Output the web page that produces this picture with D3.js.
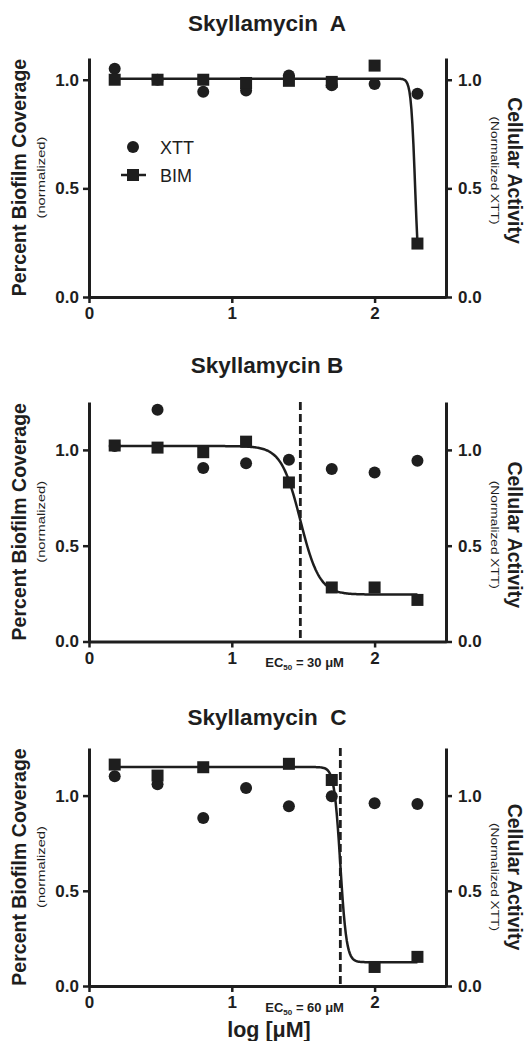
<!DOCTYPE html>
<html>
<head>
<meta charset="utf-8">
<script src="https://cdn.jsdelivr.net/npm/d3@7"></script>
<style>
  body { margin: 0; background: #fff; }
  text { font-family: "Liberation Sans", Arial, sans-serif; fill: #1e1e1e; }
</style>
</head>
<body>
<svg id="chart" width="527" height="1041"></svg>
<script>
// log10 of concentration (uM): 1.5, 3, 6.25, 12.5, 25, 50, 100, 200
var logConc = [0.18, 0.48, 0.80, 1.10, 1.40, 1.70, 2.00, 2.30];

var titles = ["Skyllamycin  A", "Skyllamycin B", "Skyllamycin  C"];

var xttA = [1.05, 1.00, 0.945, 0.95, 1.02, 0.975, 0.98, 0.935];
var bimA = [1.00, 1.00, 1.00, 0.985, 0.995, 0.99, 1.065, 0.246];

var xttB = [1.02, 1.21, 0.905, 0.93, 0.948, 0.90, 0.882, 0.943];
var bimB = [1.023, 1.012, 0.988, 1.043, 0.83, 0.282, 0.282, 0.217];

var xttC = [1.102, 1.06, 0.882, 1.04, 0.944, 0.996, 0.96, 0.956];
var bimC = [1.163, 1.105, 1.149, null, 1.167, 1.082, 0.10, 0.153];

// 4-parameter logistic fit of BIM (top, bottom, logEC50, hill)
var fitTop = [1.005, 1.02, 1.15];
var fitBottom = [0, 0.245, 0.125];
var fitLogEC50 = [2.284, 1.48, 1.76];
var fitHill = [30, 6.5, 20];

// EC50 marker lines
var ecLine = [null, 1.48, 1.76];
var ecText = [null, "30", "60"];

var yMax = [1.1, 1.25, 1.25];
var yTicks = [0, 0.5, 1.0];
var xTicks = [0, 1, 2];
var legendNames = ["XTT", "BIM"];

var
  ink = "#1e1e1e",
  svg = d3.select("#chart"),
  xL = 89, xR = 446,
  // per panel layout: axis top, axis bottom, title baseline, right label shift
  layout = [
    {top: 58, bottom: 297, title: 31, rShift: -7},
    {top: 402, bottom: 641.5, title: 373, rShift: 13},
    {top: 748, bottom: 986, title: 725, rShift: 10}
  ],
  xttAll = [xttA, xttB, xttC],
  bimAll = [bimA, bimB, bimC];

var x = d3.scaleLinear().domain([0, 2.5]).range([xL, xR]);

var logistic = (i, v) => fitBottom[i] + (fitTop[i] - fitBottom[i]) / (1 + Math.pow(10, (v - fitLogEC50[i]) * fitHill[i]));

var styleAxis = (g) => {
  g.attr("font-size", null).attr("font-family", null);
  g.select(".domain").attr("stroke", ink).attr("stroke-width", 3);
  g.selectAll(".tick line").attr("stroke", ink).attr("stroke-width", 2.5);
  g.selectAll(".tick text").attr("fill", ink)
    .style("font-size", "17px").style("font-weight", "bold");
};

var drawPanel = (i) => {
  var L = layout[i];
  var y = d3.scaleLinear().domain([0, yMax[i]]).range([L.bottom, L.top]);
  var g = svg.append("g");
  var midY = (L.top + L.bottom) / 2;

  g.append("text")
    .attr("x", 267).attr("y", L.title)
    .attr("text-anchor", "middle")
    .style("font-size", "22.5px").style("font-weight", "bold")
    .style("white-space", "pre")
    .text(titles[i]);

  // EC50 dashed line
  if (ecLine[i] != null) {
    g.append("line")
      .attr("x1", x(ecLine[i])).attr("x2", x(ecLine[i]))
      .attr("y1", y(yMax[i])).attr("y2", y(0))
      .attr("stroke", ink).attr("stroke-width", 2.8)
      .attr("stroke-dasharray", "8,4");
    var t = g.append("text")
      .attr("x", x(1.51)).attr("y", L.bottom + 25.5)
      .attr("text-anchor", "middle")
      .style("font-size", "13px").style("font-weight", "bold");
    t.append("tspan").text("EC");
    t.append("tspan").attr("dy", 3).style("font-size", "8px").text("50");
    t.append("tspan").attr("dy", -3).text(" = " + ecText[i] + " \u03bcM");
  }

  // axes
  g.append("g").attr("transform", "translate(0," + L.bottom + ")")
    .call(d3.axisBottom(x).tickValues(xTicks).tickFormat(d3.format("d"))
      .tickSize(6).tickSizeOuter(0).tickPadding(4))
    .call(styleAxis);
  g.append("g").attr("transform", "translate(" + xL + ",0)")
    .call(d3.axisLeft(y).tickValues(yTicks).tickFormat(d3.format(".1f"))
      .tickSize(6).tickSizeOuter(0).tickPadding(4))
    .call(styleAxis);
  g.append("g").attr("transform", "translate(" + xR + ",0)")
    .call(d3.axisRight(y).tickValues(yTicks).tickFormat(d3.format(".1f"))
      .tickSize(6).tickSizeOuter(0).tickPadding(6))
    .call(styleAxis);

  // fitted curve
  var xs = d3.range(0, 301).map((k) => logConc[0] + (logConc[7] - logConc[0]) * k / 300);
  g.append("path")
    .datum(xs)
    .attr("fill", "none").attr("stroke", ink).attr("stroke-width", 2.5)
    .attr("d", d3.line().x((d) => x(d)).y((d) => y(logistic(i, d))));

  // XTT circles
  g.selectAll(".xtt")
    .data(logConc.map((c, k) => ({c: c, v: xttAll[i][k]})).filter((d) => d.v != null))
    .enter().append("circle")
    .attr("cx", (d) => x(d.c)).attr("cy", (d) => y(d.v))
    .attr("r", 6).attr("fill", ink);

  // BIM squares
  g.selectAll(".bim")
    .data(logConc.map((c, k) => ({c: c, v: bimAll[i][k]})).filter((d) => d.v != null))
    .enter().append("rect")
    .attr("x", (d) => x(d.c) - 6).attr("y", (d) => y(d.v) - 6)
    .attr("width", 12).attr("height", 12).attr("fill", ink);

  // left title
  var lt = g.append("g").attr("transform", "translate(26," + midY + ") rotate(-90)");
  lt.append("text").attr("text-anchor", "middle")
    .style("font-size", "19.5px").style("font-weight", "bold")
    .text("Percent Biofilm Coverage");
  lt.append("text").attr("text-anchor", "middle").attr("y", 19)
    .attr("textLength", 82).attr("lengthAdjust", "spacingAndGlyphs")
    .style("font-size", "11.5px")
    .text("(normalized)");

  // right title
  var rt = g.append("g").attr("transform", "translate(508," + (midY + L.rShift) + ") rotate(90)");
  rt.append("text").attr("text-anchor", "middle")
    .style("font-size", "19.5px").style("font-weight", "bold")
    .text("Cellular Activity");
  rt.append("text").attr("text-anchor", "middle").attr("y", 17)
    .attr("textLength", 108).attr("lengthAdjust", "spacingAndGlyphs")
    .style("font-size", "11.5px")
    .text("(Normalized XTT)");
};

[0, 1, 2].forEach(drawPanel);

// legend (panel A only)
var leg = svg.append("g");
leg.append("circle").attr("cx", 133).attr("cy", 147).attr("r", 6).attr("fill", ink);
leg.append("line").attr("x1", 121).attr("x2", 146).attr("y1", 175).attr("y2", 175)
  .attr("stroke", ink).attr("stroke-width", 2.5);
leg.append("rect").attr("x", 127).attr("y", 169).attr("width", 12).attr("height", 12).attr("fill", ink);
leg.selectAll(".lt")
  .data(legendNames)
  .enter().append("text")
  .attr("x", 160).attr("y", (d, k) => 154 + k * 28)
  .style("font-size", "18px")
  .text((d) => d);

// x axis title
svg.append("text")
  .attr("x", 269).attr("y", 1037)
  .attr("text-anchor", "middle")
  .style("font-size", "21.5px").style("font-weight", "bold")
  .text("log [\u03bcM]");
</script>
</body>
</html>
